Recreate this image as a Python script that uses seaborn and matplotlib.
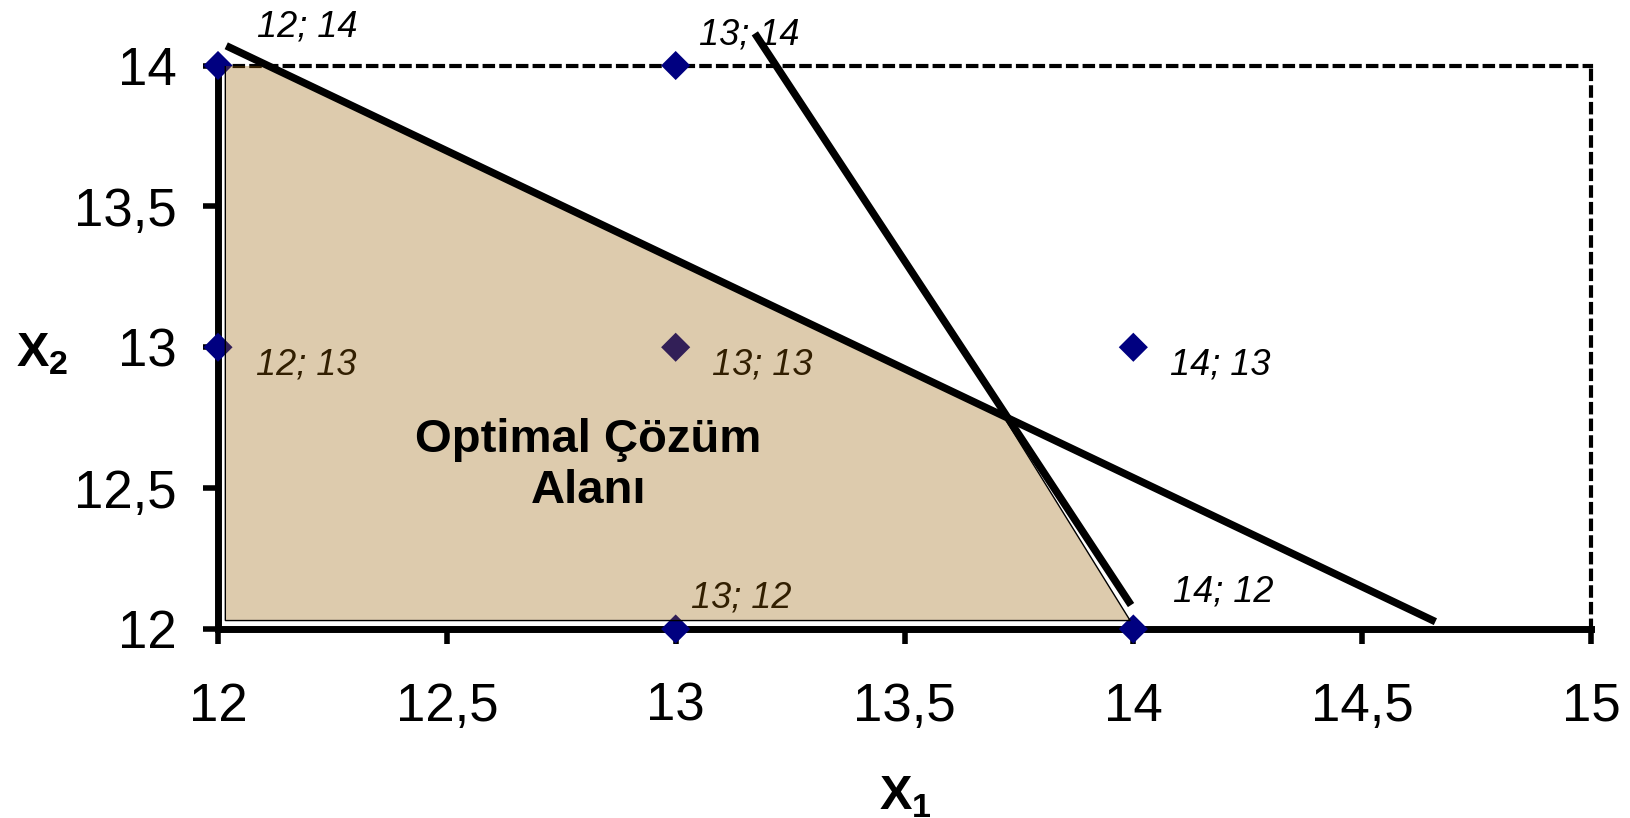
import numpy as np
import pandas as pd
import matplotlib.pyplot as plt
import seaborn as sns

# Integer solution points (x1; x2)
pt_x1 = [12, 13, 12, 13, 14, 13, 14]
pt_x2 = [14, 14, 13, 13, 13, 12, 12]
pt_labels = ['12; 14', '13; 14', '12; 13', '13; 13', '14; 13', '13; 12', '14; 12']

# Constraint lines (end points)
c1_x1 = [12.018, 14.66]
c1_x2 = [14.07, 12.026]
c2_x1 = [13.173, 13.995]
c2_x2 = [14.114, 12.085]

# Feasible region corners
reg_x1 = [12.016, 12.016, 13.72, 13.993]
reg_x2 = [12.03, 14.066, 12.745, 12.03]

x_ticks = [12, 12.5, 13, 13.5, 14, 14.5, 15]
y_ticks = [12, 12.5, 13, 13.5, 14]

sns.set_theme(style='white')
plt.rcParams['font.family'] = ['Liberation Sans', 'DejaVu Sans']
plt.rcParams['text.color'] = 'black'
plt.rcParams['mathtext.fontset'] = 'custom'
plt.rcParams['mathtext.rm'] = 'Liberation Sans'
plt.rcParams['mathtext.bf'] = 'Liberation Sans:bold'

fig = plt.figure(figsize=(16.31, 8.18), dpi=100)
ax = fig.add_axes([218/1631, 1 - 629/818, (1591 - 218)/1631, (629 - 65.5)/818])

pts = pd.DataFrame({'x1': pt_x1, 'x2': pt_x2, 'lab': pt_labels})
sns.scatterplot(data=pts, x='x1', y='x2', marker='D', s=220, color='#000080',
                edgecolor='none', ax=ax, zorder=3, clip_on=False)

# label offsets in points
offs = [(28, 28), (16.5, 22), (27.7, -13), (26.2, -13),
        (26.2, -13), (11.2, 22), (28.5, 27)]
for (x, y, t), (dx, dy) in zip(zip(pt_x1, pt_x2, pt_labels), offs):
    ax.annotate(t, (x, y), xytext=(dx, dy), textcoords='offset points',
                ha='left', va='center', fontsize=26, style='italic',
                color='black', zorder=2, annotation_clip=False)

ax.fill(reg_x1, reg_x2, facecolor=(0.6, 0.38, 0.024, 0.33),
        edgecolor='black', lw=1.0, zorder=4)

for lx, ly in [(c1_x1, c1_x2), (c2_x1, c2_x2)]:
    sns.lineplot(x=lx, y=ly, color='black', lw=5.4, sort=False,
                 estimator=None, ax=ax, zorder=5)
for ln in ax.lines:
    ln.set_clip_on(False)
    ln.set_solid_capstyle('butt')

ax.text(12.809, 12.581, 'Optimal Çözüm\nAlanı', ha='center', va='center',
        fontsize=34, fontweight='bold', linespacing=1.19, zorder=6,
        color='black')

ax.set_xlim(12, 15)
ax.set_ylim(12, 14)
ax.set_xticks(x_ticks)
ax.set_yticks(y_ticks)
ax.set_xticklabels([f'{v:g}'.replace('.', ',') for v in x_ticks])
ax.set_yticklabels([f'{v:g}'.replace('.', ',') for v in y_ticks])
ax.tick_params(axis='both', direction='out', length=10.5, width=4,
               color='black', labelsize=38, labelcolor='black',
               bottom=True, left=True, top=False, right=False)
ax.tick_params(axis='x', pad=27.5)
ax.tick_params(axis='y', pad=19)
ax.set_xlabel('')
ax.set_ylabel('')
ax.grid(False)

for s in ['left', 'bottom']:
    ax.spines[s].set_linewidth(5)
    ax.spines[s].set_color('black')
for s in ['top', 'right']:
    ax.spines[s].set_linewidth(3)
    ax.spines[s].set_color('black')
    ax.spines[s].set_linestyle((0, (2, 2)))

fig.text(905/1631, 1 - 810/818, r'$\mathbf{X}_\mathbf{1}$', ha='center',
         va='baseline', fontsize=35, color='black')
fig.text(42/1631, 1 - 367/818, r'$\mathbf{X}_\mathbf{2}$', ha='center',
         va='baseline', fontsize=35, color='black')

fig.savefig('out.png', dpi=100)
